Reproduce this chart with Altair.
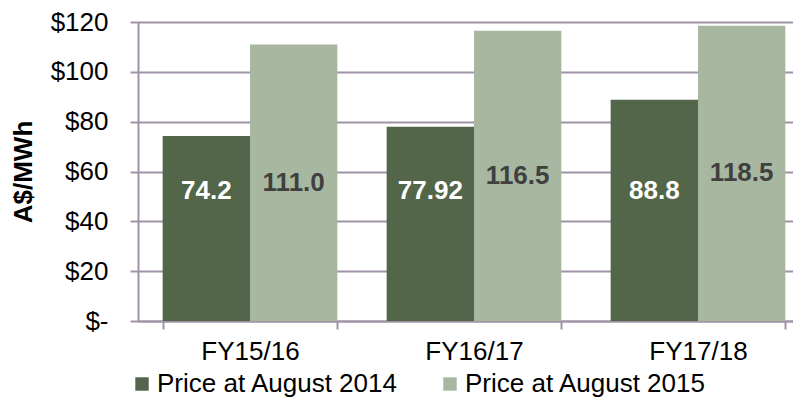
import altair as alt
import pandas as pd

categories = ["FY15/16", "FY16/17", "FY17/18"]
series = ["Price at August 2014", "Price at August 2015"]
price_aug_2014 = [74.2, 77.92, 88.8]
price_aug_2015 = [111.0, 116.5, 118.5]
labels_2014 = ["74.2", "77.92", "88.8"]
labels_2015 = ["111.0", "116.5", "118.5"]
y_ticks = [0, 20, 40, 60, 80, 100, 120]

DARK = "#536649"
LIGHT = "#A8B8A0"
GRID = "#A093A8"
FONT = "Liberation Sans"
FS = 26

rows = []
for c, v, l in zip(categories, price_aug_2014, labels_2014):
    rows.append({"category": c, "series": series[0], "value": v, "label": l})
for c, v, l in zip(categories, price_aug_2015, labels_2015):
    rows.append({"category": c, "series": series[1], "value": v, "label": l})
df = pd.DataFrame(rows)

base = alt.Chart(df).encode(
    x=alt.X(
        "category:N",
        sort=categories,
        scale=alt.Scale(paddingInner=0.22, paddingOuter=0.11, range=[0, 672]),
        axis=alt.Axis(
            title=None,
            labelAngle=0,
            labelFont=FONT,
            labelFontSize=FS,
            labelColor="black",
            labelPadding=9,
            tickBand="extent",
            tickSize=8,
            tickWidth=2,
            tickColor=GRID,
            domainColor=GRID,
            domainWidth=2,
            grid=False,
        ),
    ),
    xOffset=alt.XOffset("series:N", sort=series, scale=alt.Scale(paddingInner=0, paddingOuter=0)),
)

yaxis = alt.Axis(
    title="A$/MWh",
    values=y_ticks,
    labelExpr="datum.value == 0 ? '$-' : '$' + datum.value",
    labelFont=FONT,
    labelFontSize=FS,
    labelColor="black",
    labelPadding=22,
    tickSize=8,
    tickWidth=2,
    tickColor=GRID,
    domainColor=GRID,
    domainWidth=2,
    grid=True,
    gridColor=GRID,
    gridWidth=2,
    titleFont=FONT,
    titleFontSize=FS,
    titleFontWeight="bold",
    titleColor="black",
    titlePadding=14,
)

bars = base.mark_bar().encode(
    y=alt.Y("value:Q", scale=alt.Scale(domain=[0, 120], nice=False), axis=yaxis),
    color=alt.Color(
        "series:N",
        sort=series,
        scale=alt.Scale(domain=series, range=[DARK, LIGHT]),
        legend=alt.Legend(
            title=None,
            orient="none",
            direction="horizontal",
            legendX=-9,
            legendY=349,
            symbolType="square",
            symbolSize=180,
            symbolStrokeWidth=0,
            labelFont=FONT,
            labelFontSize=FS,
            labelColor="black",
            labelLimit=0,
            labelOffset=2,
            columnPadding=38,
            padding=0,
        ),
    ),
)

text = base.transform_calculate(
    label_y="datum.series == '" + series[1] + "' ? datum.value / 2 : 52"
).mark_text(font=FONT, fontSize=FS, fontWeight="bold", baseline="middle").encode(
    y=alt.Y("label_y:Q", title="A$/MWh"),
    text="label:N",
    color=alt.condition(alt.datum.series == series[0], alt.value("white"), alt.value("#404040")),
)

chart = alt.layer(bars, text).properties(
    width=655,
    height=299,
    padding={"left": 130, "top": 14, "right": 0, "bottom": 79},
    autosize=alt.AutoSizeParams(type="none"),
).configure_view(stroke=None)

chart.save("out.html", embed_options={"renderer": "svg", "actions": False})
